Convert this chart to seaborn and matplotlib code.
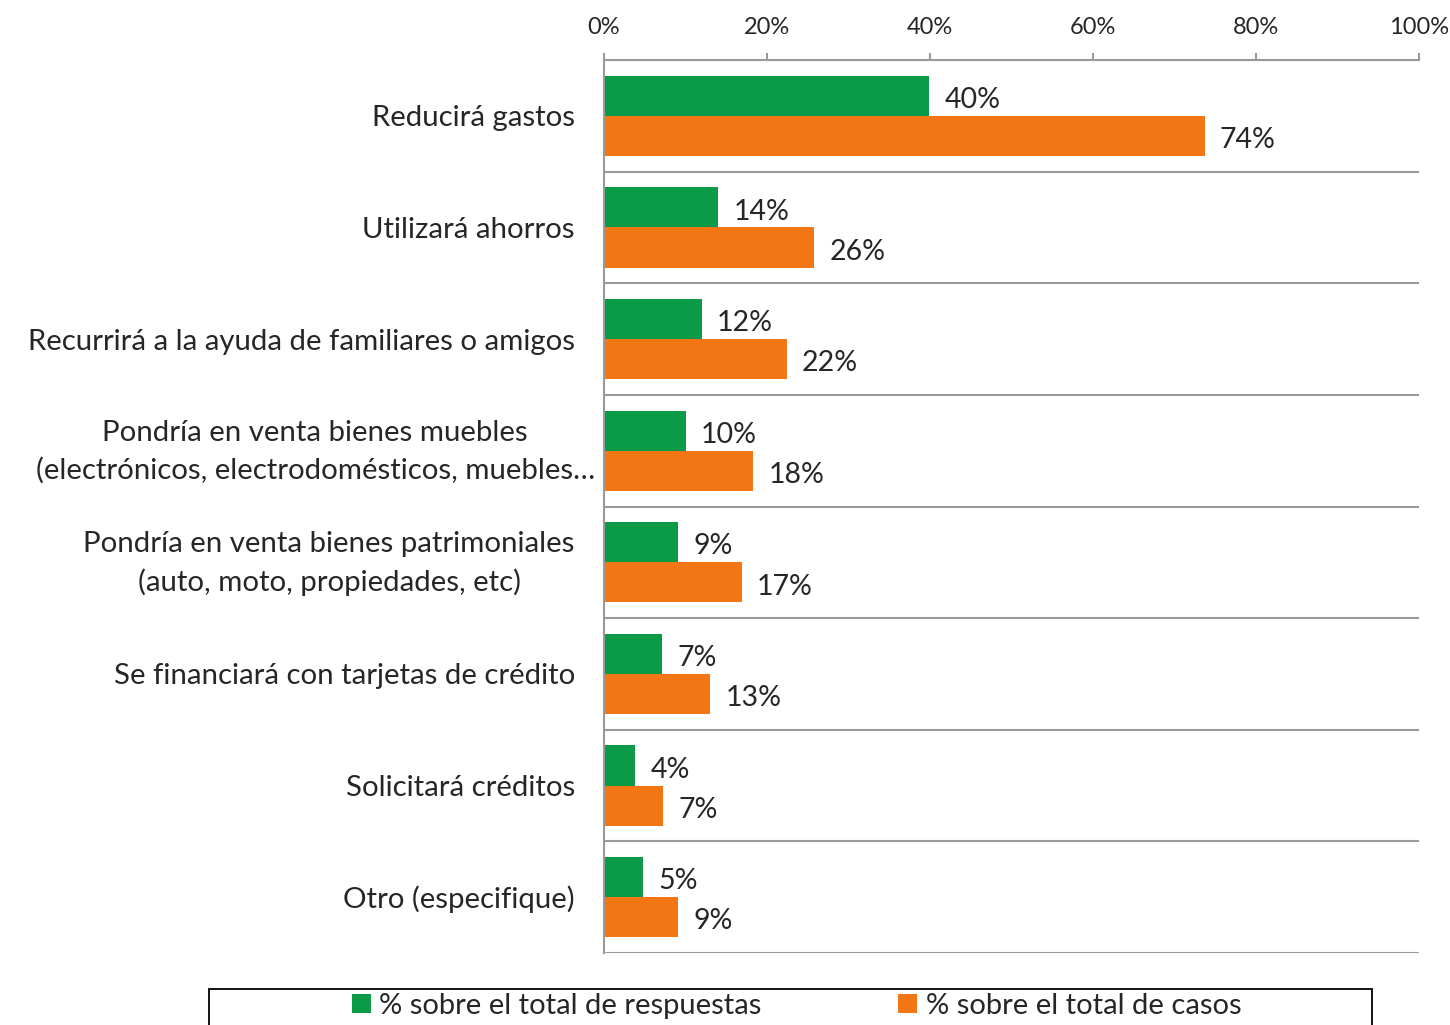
import numpy as np
import pandas as pd
import matplotlib
matplotlib.use("Agg")
import matplotlib.pyplot as plt
import matplotlib.transforms as mtransforms
from matplotlib.patches import Rectangle
from matplotlib.ticker import FuncFormatter
import seaborn as sns

# -----------------------------
# Data
# -----------------------------

categories = [
    "Reducirá gastos",
    "Utilizará ahorros",
    "Recurrirá a la ayuda de familiares o amigos",
    "Pondría en venta bienes muebles\n(electrónicos, electrodomésticos, muebles…",
    "Pondría en venta bienes patrimoniales\n(auto, moto, propiedades, etc)",
    "Se financiará con tarjetas de crédito",
    "Solicitará créditos",
    "Otro (especifique)",
]
respuestas = [39.9, 14.0, 12.0, 10.0, 9.1, 7.1, 3.8, 4.8]
casos = [73.7, 25.8, 22.4, 18.3, 16.9, 13.0, 7.3, 9.1]
series_names = ["% sobre el total de respuestas", "% sobre el total de casos"]
x_ticks = [0, 20, 40, 60, 80, 100]

df = pd.DataFrame({
    "cat": categories * 2,
    "val": respuestas + casos,
    "serie": [series_names[0]] * len(categories) + [series_names[1]] * len(categories),
})

# -----------------------------
# Style
# -----------------------------

sns.set_style("white")
plt.rcParams["font.family"] = ["Lato", "DejaVu Sans"]

green = "#0A9A48"
orange = "#F27714"
grid_gray = "#9A9A9A"

fig = plt.figure(figsize=(14.5, 10.25), dpi=100)
ax = fig.add_axes([604 / 1450, 1 - 953 / 1025, (1419 - 604) / 1450, (953 - 60) / 1025])

sns.barplot(
    data=df, x="val", y="cat", hue="serie", orient="h",
    palette=[green, orange], width=0.72, ax=ax, legend=True,
    saturation=1, edgecolor="none",
)

for cont in ax.containers:
    txts = ax.bar_label(cont, labels=[f"{v:.0f}%" for v in cont.datavalues],
                        padding=11, fontsize=20.5)
    for t in txts:
        t.xyann = (t.xyann[0], t.xyann[1] - 3)

# -----------------------------
# Axes
# -----------------------------

ax.set_xlim(0, 100)
ax.set_ylim(len(categories) - 0.5, -0.5)
ax.xaxis.tick_top()
ax.set_xticks(x_ticks)
ax.xaxis.set_major_formatter(FuncFormatter(lambda v, p: f"{v:.0f}%"))
ax.tick_params(axis="x", which="major", direction="out", length=5, width=1.5,
               color=grid_gray, labelsize=17, pad=11)
ax.set_xlabel("")
ax.set_ylabel("")

ax.tick_params(axis="y", which="major", length=0, labelsize=21.2, pad=21)
for lbl in ax.get_yticklabels():
    lbl.set_multialignment("center")
    lbl.set_linespacing(1.5)
    dx = 0
    dy = 0
    if "\n" in lbl.get_text():
        dy = 7
    if lbl.get_text().startswith("Pondría en venta bienes muebles"):
        dx = 20
    lbl.set_transform(lbl.get_transform() + mtransforms.ScaledTranslation(dx / 100, dy / 100, fig.dpi_scale_trans))

ax.set_yticks(np.arange(-0.5, len(categories), 1), minor=True)
ax.tick_params(axis="y", which="minor", direction="out", length=7, width=1.5,
               color=grid_gray)
ax.grid(axis="y", which="minor", color=grid_gray, linewidth=1.5)
ax.grid(axis="x", visible=False)
ax.grid(axis="y", which="major", visible=False)

for side in ["right", "bottom"]:
    ax.spines[side].set_visible(False)
for side in ["top", "left"]:
    ax.spines[side].set_color(grid_gray)
    ax.spines[side].set_linewidth(1.5)

# -----------------------------
# Legend
# -----------------------------

handles, labels = ax.get_legend_handles_labels()
ax.get_legend().remove()
fig.legend(
    handles, labels, ncol=2, frameon=False, fontsize=21,
    loc="center", bbox_to_anchor=((348 + 1245) / 2 / 1450, 1 - 1006 / 1025),
    handlelength=0.65, handleheight=0.65, handletextpad=0.28, columnspacing=4.7,
)
fig.patches.append(Rectangle(
    (209 / 1450, -0.05), (1372 - 209) / 1450, 0.05 + (1025 - 989) / 1025,
    transform=fig.transFigure, fill=False, edgecolor="black", linewidth=1.3,
))

fig.savefig("out.png", dpi=100)
